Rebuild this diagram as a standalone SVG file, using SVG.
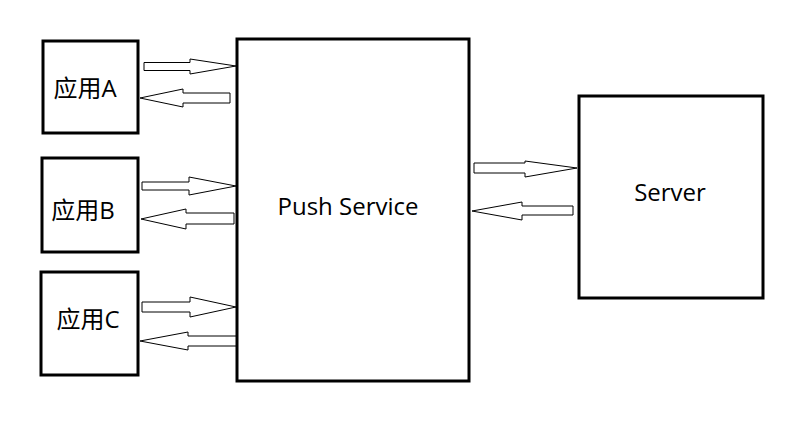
<svg xmlns="http://www.w3.org/2000/svg" width="808" height="430" viewBox="0 0 808 430">
<style>
.box{fill:#fff;stroke:#000;stroke-width:3}
.arr{fill:#fff;stroke:#000;stroke-width:1}
.lbl{font-family:"Open Sans","Noto Sans CJK SC",sans-serif;font-size:24px;fill:#000;text-anchor:middle}
</style>
<rect width="808" height="430" fill="#fff"/>
<g id="appA"><rect class="box" x="43" y="41" width="95" height="92"/><text class="lbl" x="85" y="97">应用A</text></g>
<g id="appB"><rect class="box" x="42" y="158" width="96" height="94"/><text class="lbl" x="83" y="219">应用B</text></g>
<g id="appC"><rect class="box" x="41" y="272" width="97" height="103"/><text class="lbl" x="88" y="328">应用C</text></g>
<g id="push"><rect class="box" x="237" y="39" width="232" height="342"/><text class="lbl" x="348" y="215">Push Service</text></g>
<g id="server"><rect class="box" x="579" y="96" width="184" height="202"/><text class="lbl" x="670" y="201">Server</text></g>
<g id="connectors">
<path class="arr" d="M144,62.5 H190 V59 L236,66 L190,74 V70.5 H144 Z"/>
<path class="arr" d="M230,93 H183 V89 L140,98 L183,107 V103 H230 Z"/>
<path class="arr" d="M142,182 H189 V177 L236,186 L189,195 V190 H142 Z"/>
<path class="arr" d="M234,213 H186 V209 L141,219 L186,229 V224 H234 Z"/>
<path class="arr" d="M142,302 H190 V297 L236,307 L190,317 V312 H142 Z"/>
<path class="arr" d="M236,336 H188 V332 L140,341 L188,350 V346 H236 Z"/>
<path class="arr" d="M474,163 H525 V161 L577,168 L525,177 V173 H474 Z"/>
<path class="arr" d="M573,206 H522 V202 L472,211 L522,220 V215 H573 Z"/>
</g>
</svg>
